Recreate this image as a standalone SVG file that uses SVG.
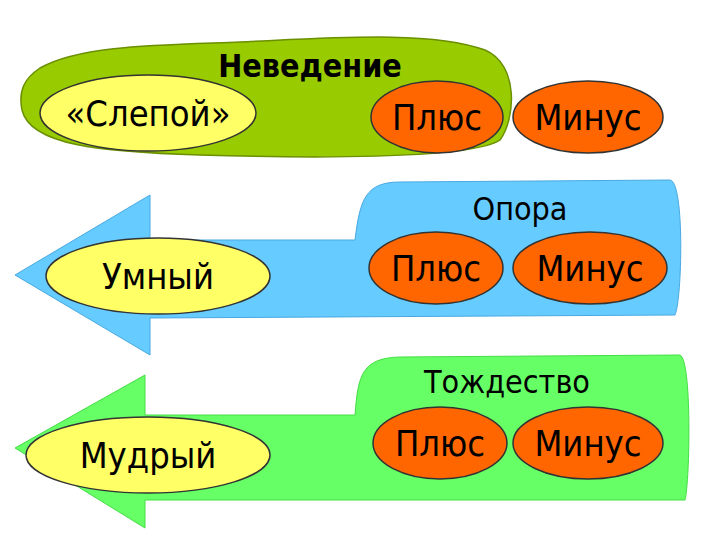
<svg xmlns="http://www.w3.org/2000/svg" width="720" height="540" viewBox="0 0 720 540">
<style>
.y{fill:#ffff66;stroke:#333;stroke-width:1.5}
.o{fill:#ff6600;stroke:#333;stroke-width:1.5}
.t{font-family:"DejaVu Sans Condensed","DejaVu Sans",sans-serif;font-stretch:condensed;font-size:36px;fill:#000;text-anchor:middle}
.h{font-family:"DejaVu Sans Condensed","DejaVu Sans",sans-serif;font-stretch:condensed;font-size:32px;fill:#000;text-anchor:middle}
</style>
<rect width="720" height="540" fill="#fff"/>
<g id="top">
<path d="M40,68 C80,45 160,45 240,42 C330,38 430,30 485,50 C520,65 515,120 500,140 C470,160 300,158 200,155 C100,152 30,145 22,110 C18,90 25,78 40,68 Z" fill="#99cc00" stroke="#6a8f00" stroke-width="1.5"/>
<text class="h" x="310" y="77" font-weight="bold">Неведение</text>
<ellipse class="y" cx="148" cy="113" rx="108" ry="38"/>
<text class="t" x="148" y="126">«Слепой»</text>
<ellipse class="o" cx="437" cy="117" rx="66" ry="36"/>
<text class="t" x="437" y="130">Плюс</text>
<ellipse class="o" cx="588" cy="117" rx="75" ry="36"/>
<text class="t" x="588" y="130">Минус</text>
</g>
<g id="mid">
<path d="M15,275 L150,195 L150,240 L355,240 C360,200 365,182 400,182 L670,180 C685,182 682,300 675,315 L150,318 L150,355 Z" fill="#66ccff" stroke="#4aa8e0" stroke-width="1"/>
<text class="h" x="520" y="220">Опора</text>
<ellipse class="y" cx="158" cy="276" rx="112" ry="38"/>
<text class="t" x="158" y="289">Умный</text>
<ellipse class="o" cx="436" cy="268" rx="67" ry="36"/>
<text class="t" x="436" y="281">Плюс</text>
<ellipse class="o" cx="590" cy="268" rx="77" ry="36"/>
<text class="t" x="590" y="281">Минус</text>
</g>
<g id="bot">
<path d="M15,448 L145,375 L145,415 L355,415 C358,375 362,358 400,357 L680,355 C692,360 690,480 685,500 L145,500 L145,528 Z" fill="#66ff66" stroke="#44dd44" stroke-width="1"/>
<text class="h" x="507" y="393">Тождество</text>
<ellipse class="y" cx="148" cy="455" rx="122" ry="38"/>
<text class="t" x="148" y="468">Мудрый</text>
<ellipse class="o" cx="440" cy="443" rx="67" ry="36"/>
<text class="t" x="440" y="456">Плюс</text>
<ellipse class="o" cx="588" cy="443" rx="75" ry="36"/>
<text class="t" x="588" y="456">Минус</text>
</g>
<g id="connectors"/>
</svg>
